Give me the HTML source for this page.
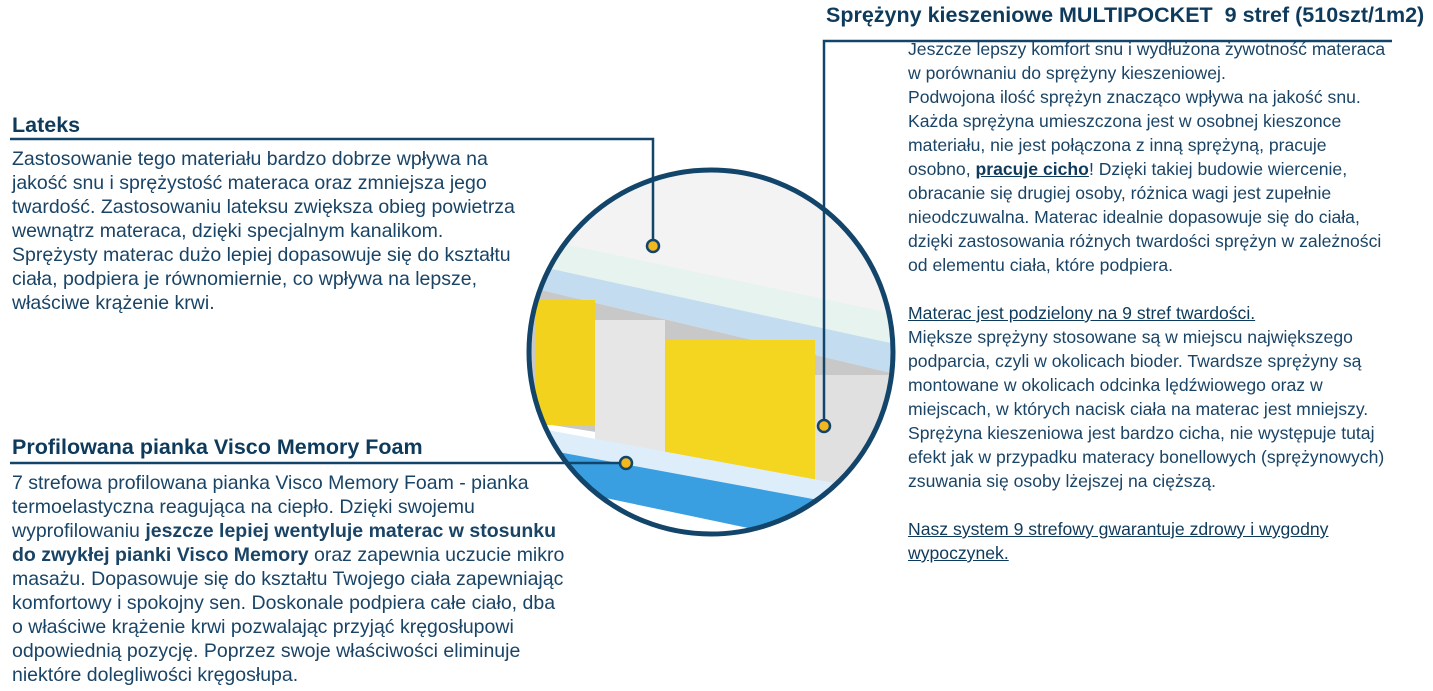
<!DOCTYPE html>
<html><head><meta charset="utf-8"><style>
body{margin:0;width:1433px;height:691px;background:#fff;position:relative;overflow:hidden;font-family:"Liberation Sans",sans-serif;color:#1a4466}
.t{position:absolute;white-space:nowrap}
.h{font-weight:bold;font-size:21.5px;color:#0e3a5c}
.b{font-size:19.5px;line-height:24px}
.r{font-size:17.6px;line-height:24px}
u{color:#0e3a5c}
</style></head><body>
<svg width="1433" height="691" style="position:absolute;left:0;top:0">
<defs><clipPath id="c"><circle cx="711" cy="352" r="182"/></clipPath></defs>
<g clip-path="url(#c)">
<rect x="520" y="160" width="390" height="390" fill="#fff"/>
<polygon points="520,160 900,160 900,330 520,250" fill="#f3f3f3"/>
<polygon points="520,235 900,315 900,345 520,262" fill="#e6f3ef"/>
<polygon points="520,262 900,345 900,375 520,285" fill="#c4dcef"/>
<polygon points="520,285 900,375 900,480 520,420" fill="#c8c8c8"/>
<rect x="535" y="300" width="60" height="125" fill="#f2d21c"/>
<rect x="595" y="320" width="70" height="135" fill="#e6e6e6"/>
<rect x="665" y="340" width="150" height="160" fill="#f4d620"/>
<rect x="815" y="375" width="80" height="140" fill="#e0e0e0"/>
<polygon points="520,440 900,510 900,560 520,480" fill="#3a9fe0"/>
<polygon points="520,425 900,495 900,515 520,445" fill="#ddeefa"/>
</g>
<circle cx="711" cy="352" r="182" fill="none" stroke="#13456b" stroke-width="5"/>
<g fill="none" stroke="#13456b" stroke-width="2.5">
<polyline points="10,139 653,139 653,245"/>
<polyline points="1392,41 824,41 824,426"/>
<line x1="10" y1="463" x2="626" y2="463"/>
</g>
<g fill="#f2b81c" stroke="#13456b" stroke-width="2.5">
<circle cx="653" cy="246" r="6"/><circle cx="824" cy="426" r="6"/><circle cx="626" cy="463" r="6"/>
</g>
</svg>
<div class="t h" style="left:826px;top:3px;font-size:21.5px">Sprężyny kieszeniowe MULTIPOCKET&nbsp; 9 stref (510szt/1m2)</div>
<div class="t h" style="left:12px;top:113px">Lateks</div>
<div class="t b" style="left:12px;top:147px">Zastosowanie tego materiału bardzo dobrze wpływa na<br>jakość snu i sprężystość materaca oraz zmniejsza jego<br>twardość. Zastosowaniu lateksu zwiększa obieg powietrza<br>wewnątrz materaca, dzięki specjalnym kanalikom.<br>Sprężysty materac dużo lepiej dopasowuje się do kształtu<br>ciała, podpiera je równomiernie, co wpływa na lepsze,<br>właściwe krążenie krwi.</div>
<div class="t h" style="left:12px;top:435px">Profilowana pianka Visco Memory Foam</div>
<div class="t b" style="left:12px;top:471px">7 strefowa profilowana pianka Visco Memory Foam - pianka<br>termoelastyczna reagująca na ciepło. Dzięki swojemu<br>wyprofilowaniu <b>jeszcze lepiej wentyluje materac w stosunku<br>do zwykłej pianki Visco Memory</b> oraz zapewnia uczucie mikro<br>masażu. Dopasowuje się do kształtu Twojego ciała zapewniając<br>komfortowy i spokojny sen. Doskonale podpiera całe ciało, dba<br>o właściwe krążenie krwi pozwalając przyjąć kręgosłupowi<br>odpowiednią pozycję. Poprzez swoje właściwości eliminuje<br>niektóre dolegliwości kręgosłupa.</div>
<div class="t r" style="left:908px;top:37px">Jeszcze lepszy komfort snu i wydłużona żywotność materaca<br>w porównaniu do sprężyny kieszeniowej.<br>Podwojona ilość sprężyn znacząco wpływa na jakość snu.<br>Każda sprężyna umieszczona jest w osobnej kieszonce<br>materiału, nie jest połączona z inną sprężyną, pracuje<br>osobno, <u><b>pracuje cicho</b></u>! Dzięki takiej budowie wiercenie,<br>obracanie się drugiej osoby, różnica wagi jest zupełnie<br>nieodczuwalna. Materac idealnie dopasowuje się do ciała,<br>dzięki zastosowania różnych twardości sprężyn w zależności<br>od elementu ciała, które podpiera.<br><br><u>Materac jest podzielony na 9 stref twardości.</u><br>Miększe sprężyny stosowane są w miejscu największego<br>podparcia, czyli w okolicach bioder. Twardsze sprężyny są<br>montowane w okolicach odcinka lędźwiowego oraz w<br>miejscach, w których nacisk ciała na materac jest mniejszy.<br>Sprężyna kieszeniowa jest bardzo cicha, nie występuje tutaj<br>efekt jak w przypadku materacy bonellowych (sprężynowych)<br>zsuwania się osoby lżejszej na cięższą.<br><br><u>Nasz system 9 strefowy gwarantuje zdrowy i wygodny<br>wypoczynek.</u></div>
</body></html>
